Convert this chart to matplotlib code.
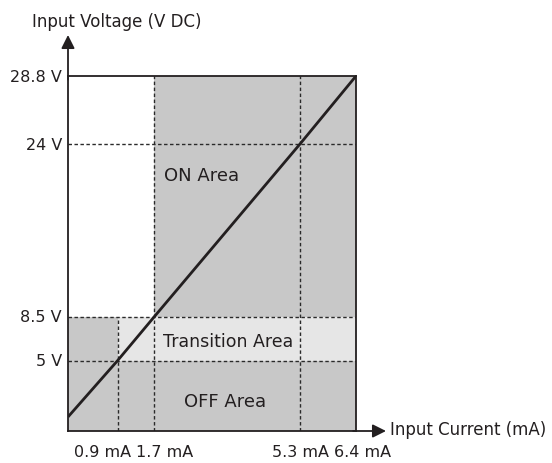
import numpy as np
import matplotlib.pyplot as plt

# values
current_ticks = [0.9, 1.7, 5.3, 6.4]
current_labels = ['0.9 mA', '1.7 mA', '5.3 mA', '6.4 mA']
voltage_ticks = [5, 8.5, 24, 28.8]
voltage_labels = ['5 V', '8.5 V', '24 V', '28.8 V']

# characteristic line (I, V)
line_current = [0, 0.9, 1.7, 5.3, 6.4]
line_voltage = [1.0, 5, 8.5, 24, 28.8]

# areas: (I from, I to, V from, V to, kind)
areas = [
    (0, 6.4, 0, 5, 'off'),
    (0, 0.9, 5, 8.5, 'off'),
    (0.9, 6.4, 5, 8.5, 'trans'),
    (1.7, 6.4, 8.5, 28.8, 'on'),
]

# schematic (non linear) axis positions, as fraction of the box
x_vals = [0, 0.9, 1.7, 5.3, 6.4]
x_frac = np.array([0, 49.5, 86.3, 232, 288]) / 288
y_vals = [0, 5, 8.5, 24, 28.8]
y_frac = np.array([0, 70.3, 114.3, 287, 355]) / 355

TXT = '#231f20'
DARK = '#c8c8c8'
LIGHT = '#e6e6e6'

plt.rcParams['font.family'] = ['DejaVu Sans']

fig = plt.figure(figsize=(5.52, 4.64), dpi=100)
ax = fig.add_axes([68 / 552, 32 / 464, 288 / 552, 355 / 464])

ax.set_xscale('function', functions=(lambda v: np.interp(v, x_vals, x_frac),
                                     lambda f: np.interp(f, x_frac, x_vals)))
ax.set_yscale('function', functions=(lambda v: np.interp(v, y_vals, y_frac),
                                     lambda f: np.interp(f, y_frac, y_vals)))
ax.set_xlim(0, 6.4)
ax.set_ylim(0, 28.8)

colors = {'off': DARK, 'on': DARK, 'trans': LIGHT}
for x0, x1, y0, y1, kind in areas:
    ax.fill_between([x0, x1], y0, y1, color=colors[kind], lw=0, zorder=1)

# dashed guide lines
dash = dict(color='#2a2a2a', lw=1.0, ls=(0, (2.5, 1.8)), zorder=2)
ax.plot([0.9, 0.9], [0, 8.5], **dash)
ax.plot([1.7, 1.7], [0, 28.8], **dash)
ax.plot([5.3, 5.3], [0, 28.8], **dash)
for v in [5, 8.5, 24]:
    ax.plot([0, 6.4], [v, v], **dash)

ax.plot(line_current, line_voltage, color=TXT, lw=2.0, zorder=4,
        solid_capstyle='butt')

for s in ax.spines.values():
    s.set_color(TXT)
    s.set_linewidth(1.3)
    s.set_zorder(5)

ax.set_xticks([])
ax.set_yticks([])

# axis arrows
arrow = dict(arrowstyle='-|>,head_length=0.4,head_width=0.2', color=TXT,
             lw=1.3, mutation_scale=20, shrinkA=0, shrinkB=0)
ax.annotate('', xy=(0, (432 - 36) / 355), xytext=(0, 0.99),
            xycoords='axes fraction', arrowprops=arrow, annotation_clip=False)
ax.annotate('', xy=((386 - 68) / 288, 0), xytext=(0.99, 0),
            xycoords='axes fraction', arrowprops=arrow, annotation_clip=False)

# tick labels
x_offsets = [-15, 10, 0, 6.5]
for val, lab, dx in zip(current_ticks, current_labels, x_offsets):
    ax.annotate(lab, xy=(val, 0), xycoords=('data', 'axes fraction'),
                xytext=(dx, -21), textcoords='offset pixels',
                ha='center', va='center', fontsize=11.5, color=TXT,
                annotation_clip=False)
for val, lab in zip(voltage_ticks, voltage_labels):
    ax.annotate(lab, xy=(0, val), xycoords=('axes fraction', 'data'),
                xytext=(-6, 0), textcoords='offset pixels',
                ha='right', va='center', fontsize=11.5, color=TXT,
                annotation_clip=False)

fig.text(32 / 552, 1 - 22 / 464, 'Input Voltage (V DC)', ha='left',
         va='center', fontsize=12, color=TXT)
fig.text(390 / 552, 1 - 430 / 464, 'Input Current (mA)', ha='left',
         va='center', fontsize=12, color=TXT)

ax.text(0.465, 0.721, 'ON Area', transform=ax.transAxes, ha='center',
        va='center', fontsize=13, color=TXT, zorder=6)
ax.text(0.556, 0.254, 'Transition Area', transform=ax.transAxes, ha='center',
        va='center', fontsize=12.5, color=TXT, zorder=6)
ax.text(0.547, 0.085, 'OFF Area', transform=ax.transAxes, ha='center',
        va='center', fontsize=13, color=TXT, zorder=6)

fig.savefig('out.png', dpi=100)
